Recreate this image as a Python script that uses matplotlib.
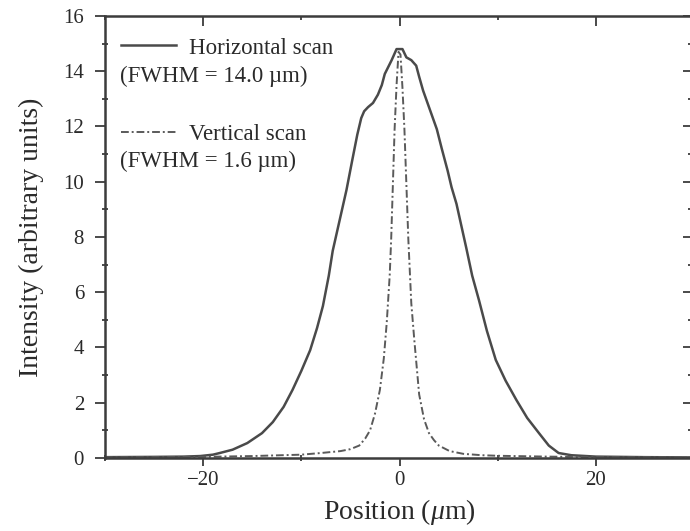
import numpy as np
import matplotlib
matplotlib.use('Agg')
from matplotlib import pyplot as plt
from matplotlib.ticker import MultipleLocator, NullFormatter

plt.rcParams['font.family'] = ['Liberation Serif', 'DejaVu Serif']
plt.rcParams['mathtext.fontset'] = 'custom'
plt.rcParams['mathtext.it'] = 'Liberation Serif:italic'
plt.rcParams['mathtext.rm'] = 'Liberation Serif'

# horizontal scan (solid)
h_pos = [-30, -25, -22, -20.3, -19, -18.3, -17, -15.5, -14, -12.9, -11.8, -10.9, -10,
         -9.1, -8.4, -7.8, -7.2, -6.8, -6.1, -5.4, -4.8, -4.3, -3.9, -3.6, -3.2, -2.7,
         -2.2, -1.8, -1.5, -0.8, -0.3, 0.3, 0.7, 1.2, 1.7, 2.0, 2.4, 2.8, 3.3, 3.8, 4.3,
         4.9, 5.3, 5.8, 6.3, 6.8, 7.4, 8.1, 8.9, 9.8, 10.8, 11.9, 13, 14.2, 15.2, 16.2,
         17.5, 20, 25, 30]
h_int = [0.03, 0.04, 0.05, 0.07, 0.12, 0.18, 0.3, 0.54, 0.9, 1.3, 1.85, 2.46, 3.15,
         3.9, 4.7, 5.5, 6.6, 7.5, 8.6, 9.7, 10.8, 11.7, 12.3, 12.55, 12.7, 12.85,
         13.15, 13.5, 13.9, 14.4, 14.8, 14.8, 14.5, 14.4, 14.2, 13.8, 13.3, 12.9, 12.4,
         11.9, 11.2, 10.4, 9.8, 9.2, 8.4, 7.6, 6.6, 5.7, 4.6, 3.55, 2.8, 2.1, 1.45,
         0.9, 0.45, 0.18, 0.1, 0.05, 0.03, 0.02]

# vertical scan (dash-dot)
v_pos = [-30, -20, -15, -10, -8, -6, -5, -4.1, -3.5, -3.0, -2.5, -2.0, -1.6, -1.3,
         -1.0, -0.85, -0.5, -0.3, -0.1, 0.1, 0.3, 0.5, 0.9, 1.2, 1.5, 2.0, 2.5, 3.0,
         3.5, 4.0, 5.1, 6.5, 8.4, 10, 15, 20, 30]
v_int = [0.02, 0.04, 0.07, 0.12, 0.18, 0.25, 0.32, 0.45, 0.7, 1.0, 1.6, 2.46, 3.6,
         4.9, 6.6, 7.9, 11.9, 13.5, 14.7, 14.6, 13.4, 11.9, 7.9, 5.6, 4.3, 2.3, 1.4,
         0.9, 0.65, 0.45, 0.25, 0.15, 0.1, 0.08, 0.05, 0.03, 0.02]

labels = ['Horizontal scan', 'Vertical scan']
fwhm = ['(FWHM = 14.0 \u00b5m)', '(FWHM = 1.6 \u00b5m)']

fig = plt.figure(figsize=(6.9, 5.31), dpi=100)
ax = fig.add_axes([0.152, 0.1375, 0.854, 0.8325])

ink = '#3c3c3c'
txt = '#2a2a2a'
h_line, = ax.plot(h_pos, h_int, color='#4a4a4a', lw=1.8, label=labels[0])
v_line, = ax.plot(v_pos, v_int, color='#5a5a5a', lw=1.4, dashes=(4, 1.5, 1, 1.5), label=labels[1])

ax.set_xlim(-30, 30)
ax.set_ylim(0, 16)
ax.xaxis.set_major_locator(MultipleLocator(20))
ax.xaxis.set_minor_locator(MultipleLocator(10))
ax.yaxis.set_major_locator(MultipleLocator(2))
ax.yaxis.set_minor_locator(MultipleLocator(1))

for s in ax.spines.values():
    s.set_color(ink)
    s.set_linewidth(1.8)
ax.spines['right'].set_visible(False)

ax.tick_params(axis='both', which='both', colors=ink, labelcolor=txt, width=1.3)
ax.tick_params(axis='both', which='major', labelsize=15)
ax.tick_params(axis='y', which='major', direction='out', length=7, pad=8)
ax.tick_params(axis='y', which='minor', direction='inout', length=4)
ax.tick_params(axis='x', which='major', direction='out', length=6)
ax.tick_params(axis='x', which='minor', direction='inout', length=4)

# inward ticks on top and right
top = ax.secondary_xaxis('top')
top.xaxis.set_major_locator(MultipleLocator(20))
top.xaxis.set_minor_locator(MultipleLocator(10))
top.xaxis.set_major_formatter(NullFormatter())
top.tick_params(which='major', direction='in', length=7, width=1.3, colors=ink)
top.tick_params(which='minor', direction='in', length=3, width=1.3, colors=ink)
top.spines['top'].set_visible(False)

right = ax.secondary_yaxis('right')
right.yaxis.set_major_locator(MultipleLocator(2))
right.yaxis.set_minor_locator(MultipleLocator(1))
right.yaxis.set_major_formatter(NullFormatter())
right.tick_params(which='major', direction='in', length=8, width=1.3, colors=ink)
right.tick_params(which='minor', direction='in', length=4, width=1.3, colors=ink)
right.spines['right'].set_visible(False)

ax.set_xlabel('Position ($\\mu$m)', fontsize=20, color=txt, labelpad=5)
ax.set_ylabel('Intensity (arbitrary units)', fontsize=20, color=txt, labelpad=14)

leg = ax.legend(handles=[h_line, v_line], loc='upper left', bbox_to_anchor=(0.012, 0.972),
                frameon=False, fontsize=16.5, handlelength=2.4, handletextpad=0.55,
                labelspacing=2.85, borderaxespad=0)
for t in leg.get_texts():
    t.set_color(txt)

ax.text(0.025, 0.864, fwhm[0], transform=ax.transAxes, fontsize=16.5, color=txt,
        ha='left', va='center')
ax.text(0.025, 0.672, fwhm[1], transform=ax.transAxes, fontsize=16.5, color=txt,
        ha='left', va='center')

fig.savefig('out.png', dpi=100)
